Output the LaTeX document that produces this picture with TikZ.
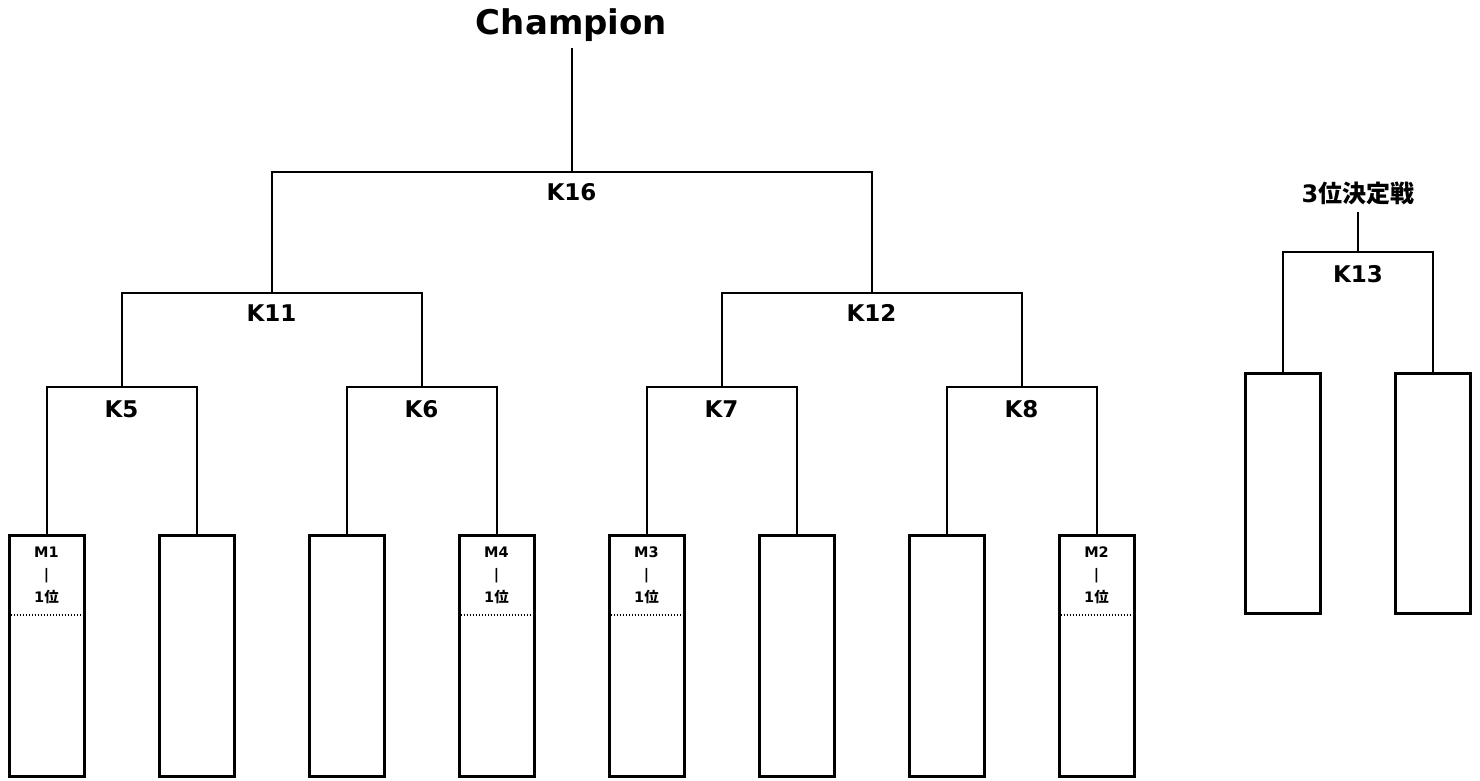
\documentclass[tikz,border=0pt]{standalone}
\usepackage{fontspec}
\setmainfont{DejaVu Sans}
\newfontfamily\cjk{Noto Sans CJK JP}
\usetikzlibrary{positioning}

\tikzset{
  slot/.style={draw, line width=3pt, minimum width=75pt, minimum height=241pt, inner sep=0pt},
  round/.style={font=\bfseries\fontsize{23}{27}\selectfont},
  seed/.style={font=\bfseries\fontsize{14.5}{22.5}\selectfont, align=center},
}

\begin{document}
\begin{tikzpicture}[x=1pt, y=-1pt, line width=2pt]
            \useasboundingbox (0,0) rectangle (1480,780);
            % main bracket, bottom row
            \node [slot] (b1) at (46.5,655.5) {};
            \node [slot] (b2) at (196.5,655.5) {};
            \node [slot] (b3) at (346.5,655.5) {};
            \node [slot] (b4) at (496.5,655.5) {};
            \node [slot] (b5) at (646.5,655.5) {};
            \node [slot] (b6) at (796.5,655.5) {};
            \node [slot] (b7) at (946.5,655.5) {};
            \node [slot] (b8) at (1096.5,655.5) {};
            \node [seed] (s1) at (46.5,575) {M1\\|\\1{\cjk 位}};
            \node [seed] (s4) at (496.5,575) {M4\\|\\1{\cjk 位}};
            \node [seed] (s3) at (646.5,575) {M3\\|\\1{\cjk 位}};
            \node [seed] (s2) at (1096.5,575) {M2\\|\\1{\cjk 位}};
            \foreach \b in {b1,b4,b5,b8}
              \draw [dash pattern=on 1.5pt off 1.5pt] ([yshift=-81pt]\b.north west) -- ([yshift=-81pt]\b.north east);
            % junctions
            \coordinate (j5) at (121.5,387);
            \coordinate (j6) at (421.5,387);
            \coordinate (j7) at (721.5,387);
            \coordinate (j8) at (1021.5,387);
            \coordinate (j11) at (271.5,293);
            \coordinate (j12) at (871.5,293);
            \coordinate (j16) at (571.5,172);
            \node [round, below=9pt of j5] (K5) {K5};
            \node [round, below=9pt of j6] (K6) {K6};
            \node [round, below=9pt of j7] (K7) {K7};
            \node [round, below=9pt of j8] (K8) {K8};
            \node [round, below=7pt of j11] (K11) {K11};
            \node [round, below=7pt of j12] (K12) {K12};
            \node [round, below=7pt of j16] (K16) {K16};
            \node [font=\bfseries\fontsize{34}{40}\selectfont] (champ) at (571.5,25) {Champion};
            \draw (b1.north) |- (j5) -| (b2.north);
            \draw (b3.north) |- (j6) -| (b4.north);
            \draw (b5.north) |- (j7) -| (b6.north);
            \draw (b7.north) |- (j8) -| (b8.north);
            \draw (j5) |- (j11) -| (j6);
            \draw (j7) |- (j12) -| (j8);
            \draw (j11) |- (j16) -| (j12);
            \draw [shorten >=2pt] (j16) -- (champ.south);
            % third place match
            \node [slot, minimum height=240pt] (t1) at (1282.5,493) {};
            \node [slot, minimum height=240pt] (t2) at (1433,493) {};
            \coordinate (j13) at (1358,252);
            \node [round, below=9pt of j13] (K13) {K13};
            \node [font=\bfseries\fontsize{24}{28}\selectfont] (third) at (1358,193) {3{\cjk 位決定戦}};
            \draw [shorten >=3pt] (j13) -- (third.south);
            \draw (t1.north) |- (j13) -| (t2.north);
        \end{tikzpicture}
\end{document}
